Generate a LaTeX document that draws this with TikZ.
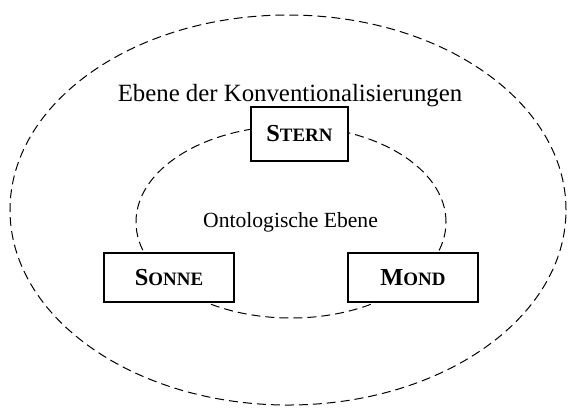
\documentclass[tikz,border=0pt]{standalone}
\usepackage{fontspec}
\setmainfont{Liberation Serif}
\usepackage{tikz}
\usetikzlibrary{positioning}
% fake small caps: big initial, smaller rest
\newcommand{\kapit}[2]{\textbf{{\fontsize{24.5}{26}\selectfont #1}{\fontsize{19}{21}\selectfont #2}}}

\begin{document}
\begin{tikzpicture}[x=1bp, y=-1bp,
    ebene/.style={dash pattern=on 9bp off 5bp, line width=1bp},
    begriff/.style={draw, fill=white, line width=1.3bp, minimum width=130bp, minimum height=49bp, inner sep=0pt}]
   \useasboundingbox (0,0) rectangle (568,407);
   % the two levels
   \draw[ebene] (288,210) ellipse [x radius=278bp, y radius=195bp];
   \draw[ebene] (291,222) ellipse [x radius=155bp, y radius=96bp];
   \node[anchor=base, font=\fontsize{24.9}{27}\selectfont] (konv) at (290,101) {Ebene der Konventionalisierungen};
   \node[anchor=base, font=\fontsize{21.7}{24}\selectfont] (onto) at (290.5,227) {Ontologische Ebene};
   % the three terms
   \node[begriff, minimum width=97bp, minimum height=54bp] (stern) at (299.5,134) {\kapit{S}{TERN}};
   \node[begriff] (sonne) at (169,277.5) {\kapit{S}{ONNE}};
   \node[begriff] (mond) at (413,277.5) {\kapit{M}{OND}};
\end{tikzpicture}
\end{document}
